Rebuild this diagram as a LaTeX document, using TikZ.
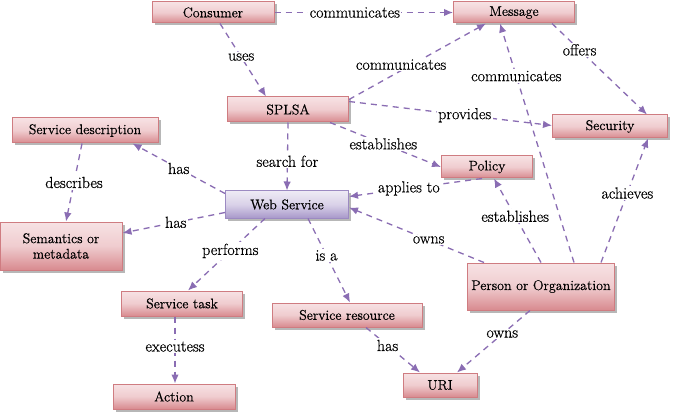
\documentclass[tikz,border=0pt]{standalone}
\usepackage{fontspec}
\newfontfamily\lserif{Latin Modern Roman}[FakeBold=0.45]
\usetikzlibrary{arrows.meta,shadows,calc}
\definecolor{boxborder}{HTML}{CF7C81}
\definecolor{boxlight}{HTML}{F7E2E4}
\definecolor{boxdark}{HTML}{D88A8F}
\definecolor{wsborder}{HTML}{9C8AC2}
\definecolor{wslight}{HTML}{EEEAF5}
\definecolor{wsdark}{HTML}{A898CA}
\definecolor{edgecol}{HTML}{8A6DB3}
\tikzset{
  box/.style={rectangle, draw=boxborder, line width=1pt, top color=boxlight, bottom color=boxdark,
    middle color=boxlight!75!boxdark, inner sep=2pt, align=center,
    font=\lserif\fontsize{14}{15.5}\selectfont,
    drop shadow={shadow xshift=2.5pt, shadow yshift=-2.5pt, fill=black!35, opacity=0.8}},
  wsbox/.style={box, draw=wsborder, top color=wslight, bottom color=wsdark, middle color=wslight!70!wsdark},
  edge/.style={draw=edgecol, line width=1.3pt, dash pattern=on 6pt off 5pt,
    -{Latex[length=9pt,width=7.5pt]}},
  lbl/.style={fill=white, inner sep=1.5pt, font=\lserif\fontsize{16}{18}\selectfont, text=black}
}
\begin{document}
\begin{tikzpicture}[x=1pt,y=-1pt]
\useasboundingbox[fill=white] (0,0) rectangle (685,414);
% nodes
\node[box, minimum width=122pt, minimum height=21pt] (cons) at (213,12.5) {Consumer};
\node[box, minimum width=121pt, minimum height=21pt] (msg) at (514,12.5) {Message};
\node[box, minimum width=121pt, minimum height=25pt] (splsa) at (288,109.5) {SPLSA};
\node[box, minimum width=146pt, minimum height=25pt] (sdesc) at (85,130.5) {Service description};
\node[box, minimum width=115pt, minimum height=23pt] (sec) at (610,126.5) {Security};
\node[box, minimum width=91pt, minimum height=22pt] (pol) at (487,167) {Policy};
\node[wsbox, minimum width=123pt, minimum height=27pt] (ws) at (287,204.5) {Web Service};
\node[box, minimum width=122pt, minimum height=48pt] (sem) at (61,246) {Semantics or\\metadata};
\node[box, minimum width=147pt, minimum height=47pt] (pers) at (541,286.5) {Person or Organization};
\node[box, minimum width=121pt, minimum height=25pt] (task) at (182,303.5) {Service task};
\node[box, minimum width=150pt, minimum height=24pt] (res) at (347,315) {Service resource};
\node[box, minimum width=74pt, minimum height=24pt] (uri) at (440,385) {URI};
\node[box, minimum width=122pt, minimum height=25pt] (act) at (174,396.5) {Action};
% edges
\draw[edge] (cons.east) -- node[lbl, pos=0.45]{communicates} (msg.west);
\draw[edge] ($(cons.south)+(7,0)$) -- node[lbl, pos=0.46]{uses} ($(splsa.north)+(-22,0)$);
\draw[edge] ($(splsa.north east)+(0,3)$) -- node[lbl, pos=0.38, yshift=6pt]{communicates} ($(msg.south)+(-28,0)$);
\draw[edge] ($(splsa.east)+(0,-8)$) -- node[lbl, pos=0.57]{provides} ($(sec.west)+(0,-1)$);
\draw[edge] ($(splsa.south)+(42,0)$) -- node[lbl, pos=0.48]{establishes} (pol.west);
\draw[edge] (splsa.south) -- node[lbl, pos=0.57]{search for} (ws.north);
\draw[edge] ($(msg.south east)+(-23,0)$) -- node[lbl, pos=0.29]{offers} ($(sec.north)+(37,0)$);
\draw[edge] ($(pers.north)+(33,0)$) -- node[lbl, pos=0.78]{communicates} ($(msg.south)+(-14,0)$);
\draw[edge] ($(pers.north)+(60,0)$) -- node[lbl, pos=0.56]{achieves} ($(sec.south)+(38,0)$);
\draw[edge] (pers.north) -- node[lbl, pos=0.55]{establishes} ($(pol.south)+(7,0)$);
\draw[edge] ($(pers.north west)+(17,0)$) -- node[lbl, pos=0.41]{owns} ($(ws.east)+(0,3)$);
\draw[edge] ($(pers.south)+(-11,0)$) -- node[lbl, pos=0.38]{owns} ($(uri.north)+(17,0)$);
\draw[edge] ($(pol.south)+(-5,0)$) -- node[lbl, pos=0.55]{applies to} ($(ws.east)+(0,-8)$);
\draw[edge] ($(ws.north west)+(0,3)$) -- node[lbl, pos=0.5]{has} ($(sdesc.south east)+(-26,0)$);
\draw[edge] ($(ws.west)+(0,8)$) -- node[lbl, pos=0.48]{has} ($(sem.east)+(0,-13)$);
\draw[edge] ($(sdesc.south)+(-3,0)$) -- node[lbl, pos=0.5]{describes} ($(sem.north)+(5,0)$);
\draw[edge] ($(ws.south)+(-22,0)$) -- node[lbl, pos=0.45]{performs} ($(task.north)+(6,0)$);
\draw[edge] ($(ws.south)+(21,0)$) -- node[lbl, pos=0.44]{is a} ($(res.north)+(3,0)$);
\draw[edge] ($(task.south)+(-7,0)$) -- node[lbl, pos=0.45]{executess} ($(act.north)+(1,0)$);
\draw[edge] ($(res.south)+(19,0)$) -- node[lbl, pos=0.4]{has} ($(uri.north)+(-20,0)$);
\end{tikzpicture}
\end{document}
